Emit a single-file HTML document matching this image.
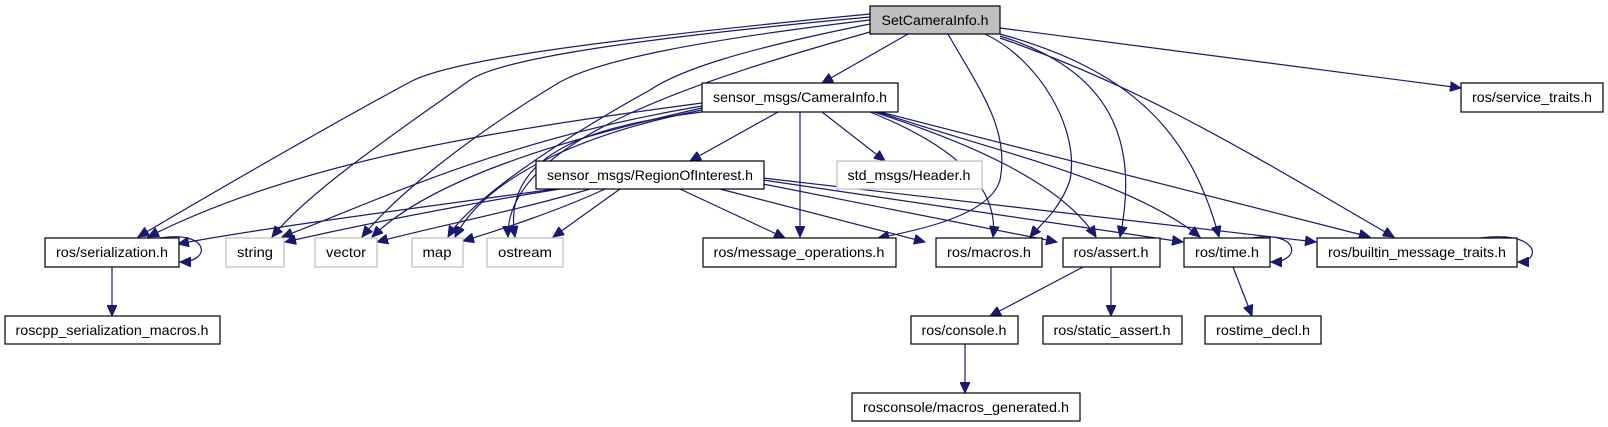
<!DOCTYPE html>
<html><head><meta charset="utf-8"><style>
html,body{margin:0;padding:0;background:#fff;}
svg{display:block;}
text{font-family:"Liberation Sans",sans-serif;font-size:14px;fill:#000;}
.e{fill:none;stroke:#191970;stroke-width:1.2;marker-end:url(#a);}
.b{fill:#fff;stroke:#000;stroke-width:1.2;}
.g{fill:#fff;stroke:#bfbfbf;stroke-width:1.2;}
</style></head><body>
<svg width="1608" height="427" viewBox="0 0 1608 427" xmlns="http://www.w3.org/2000/svg">
<defs><marker id="a" markerUnits="userSpaceOnUse" markerWidth="12" markerHeight="10" refX="11" refY="5" orient="auto"><path d="M0,0 L11,5 L0,10 z" fill="#191970" stroke="#191970"/></marker></defs>
<path class="e" d="M908,34 L822,83"/>
<path class="e" d="M870,14 C600,40 450,60 410,82 C330,125 200,200 138,237"/>
<path class="e" d="M870,17 C620,40 500,60 470,80 C400,130 310,190 272,237"/>
<path class="e" d="M870,20 C700,40 600,60 560,82 C480,130 400,190 362,237"/>
<path class="e" d="M870,24 C740,50 680,70 650,90 C560,140 470,200 448,237"/>
<path class="e" d="M870,32 C700,80 505,140 508,237"/>
<path class="e" d="M948,34 C980,90 1010,130 1000,180 C990,215 920,230 878,238"/>
<path class="e" d="M985,34 C1040,60 1080,130 1070,180 C1060,210 1040,225 1030,237"/>
<path class="e" d="M1000,36 C1110,70 1140,140 1120,237"/>
<path class="e" d="M1000,34 C1130,70 1190,130 1219,237"/>
<path class="e" d="M1000,38 C1150,90 1260,160 1394,237"/>
<path class="e" d="M1000,28 L1461,88"/>
<path class="e" d="M778,112 L690,161"/>
<path class="e" d="M822,112 L885,161"/>
<path class="e" d="M800,112 L800,237"/>
<path class="e" d="M702,103 C500,130 300,160 148,237"/>
<path class="e" d="M702,106 C500,140 380,200 282,237"/>
<path class="e" d="M702,108 C560,140 430,180 372,237"/>
<path class="e" d="M702,110 C600,130 490,170 455,237"/>
<path class="e" d="M702,112 C600,125 500,150 515,237"/>
<path class="e" d="M870,112 C940,140 1000,180 993,237"/>
<path class="e" d="M874,112 C960,140 1060,180 1096,237"/>
<path class="e" d="M878,112 C990,150 1130,180 1200,237"/>
<path class="e" d="M880,112 L1370,237"/>
<path class="e" d="M555,189 C400,210 250,230 178,244"/>
<path class="e" d="M560,189 C460,205 360,225 285,242"/>
<path class="e" d="M590,189 C520,210 420,230 377,242"/>
<path class="e" d="M605,189 C560,210 500,230 463,241"/>
<path class="e" d="M620,189 L553,237"/>
<path class="e" d="M680,189 L785,238"/>
<path class="e" d="M720,189 L925,242"/>
<path class="e" d="M763,184 L1057,242"/>
<path class="e" d="M763,180 L1183,242"/>
<path class="e" d="M763,178 L1316,242"/>
<path class="e" d="M160,238 C210,230 212,262 180,262"/>
<path class="e" d="M1252,238 C1300,230 1302,262 1271,262"/>
<path class="e" d="M1480,238 C1540,230 1542,262 1518,262"/>
<path class="e" d="M112,267 L112,316"/>
<path class="e" d="M1083,267 L990,316"/>
<path class="e" d="M1111,267 L1111,316"/>
<path class="e" d="M1233,267 L1252,316"/>
<path class="e" d="M965,344 L965,393"/>
<rect x="870" y="6" width="130" height="28" fill="#bfbfbf" stroke="#000" stroke-width="1.2"/>
<text x="935" y="25" text-anchor="middle" textLength="107" lengthAdjust="spacingAndGlyphs">SetCameraInfo.h</text>
<rect class="b" x="702" y="83" width="196" height="29"/><text x="800" y="102" text-anchor="middle" textLength="174" lengthAdjust="spacingAndGlyphs">sensor_msgs/CameraInfo.h</text>
<rect class="b" x="1461" y="83" width="142" height="29"/><text x="1532" y="102" text-anchor="middle" textLength="120" lengthAdjust="spacingAndGlyphs">ros/service_traits.h</text>
<rect class="b" x="536" y="161" width="228" height="28"/><text x="650" y="180" text-anchor="middle" textLength="206" lengthAdjust="spacingAndGlyphs">sensor_msgs/RegionOfInterest.h</text>
<rect class="g" x="837" y="161" width="145" height="28"/><text x="909" y="180" text-anchor="middle" textLength="123" lengthAdjust="spacingAndGlyphs">std_msgs/Header.h</text>
<rect class="b" x="45" y="238" width="134" height="29"/><text x="112" y="257" text-anchor="middle" textLength="112" lengthAdjust="spacingAndGlyphs">ros/serialization.h</text>
<rect class="g" x="226" y="238" width="58" height="29"/><text x="255" y="257" text-anchor="middle" textLength="36" lengthAdjust="spacingAndGlyphs">string</text>
<rect class="g" x="315" y="238" width="62" height="29"/><text x="346" y="257" text-anchor="middle" textLength="40" lengthAdjust="spacingAndGlyphs">vector</text>
<rect class="g" x="412" y="238" width="51" height="29"/><text x="437" y="257" text-anchor="middle" textLength="29" lengthAdjust="spacingAndGlyphs">map</text>
<rect class="g" x="487" y="238" width="76" height="29"/><text x="525" y="257" text-anchor="middle" textLength="54" lengthAdjust="spacingAndGlyphs">ostream</text>
<rect class="b" x="703" y="238" width="193" height="29"/><text x="799" y="257" text-anchor="middle" textLength="171" lengthAdjust="spacingAndGlyphs">ros/message_operations.h</text>
<rect class="b" x="936" y="238" width="106" height="29"/><text x="989" y="257" text-anchor="middle" textLength="84" lengthAdjust="spacingAndGlyphs">ros/macros.h</text>
<rect class="b" x="1063" y="238" width="97" height="29"/><text x="1111" y="257" text-anchor="middle" textLength="75" lengthAdjust="spacingAndGlyphs">ros/assert.h</text>
<rect class="b" x="1184" y="238" width="86" height="29"/><text x="1227" y="257" text-anchor="middle" textLength="64" lengthAdjust="spacingAndGlyphs">ros/time.h</text>
<rect class="b" x="1317" y="238" width="200" height="29"/><text x="1417" y="257" text-anchor="middle" textLength="178" lengthAdjust="spacingAndGlyphs">ros/builtin_message_traits.h</text>
<rect class="b" x="5" y="316" width="215" height="28"/><text x="112" y="335" text-anchor="middle" textLength="193" lengthAdjust="spacingAndGlyphs">roscpp_serialization_macros.h</text>
<rect class="b" x="911" y="316" width="107" height="28"/><text x="964" y="335" text-anchor="middle" textLength="85" lengthAdjust="spacingAndGlyphs">ros/console.h</text>
<rect class="b" x="1043" y="316" width="139" height="28"/><text x="1112" y="335" text-anchor="middle" textLength="117" lengthAdjust="spacingAndGlyphs">ros/static_assert.h</text>
<rect class="b" x="1205" y="316" width="116" height="28"/><text x="1263" y="335" text-anchor="middle" textLength="94" lengthAdjust="spacingAndGlyphs">rostime_decl.h</text>
<rect class="b" x="852" y="393" width="228" height="28"/><text x="966" y="412" text-anchor="middle" textLength="206" lengthAdjust="spacingAndGlyphs">rosconsole/macros_generated.h</text>
</svg>
</body></html>
